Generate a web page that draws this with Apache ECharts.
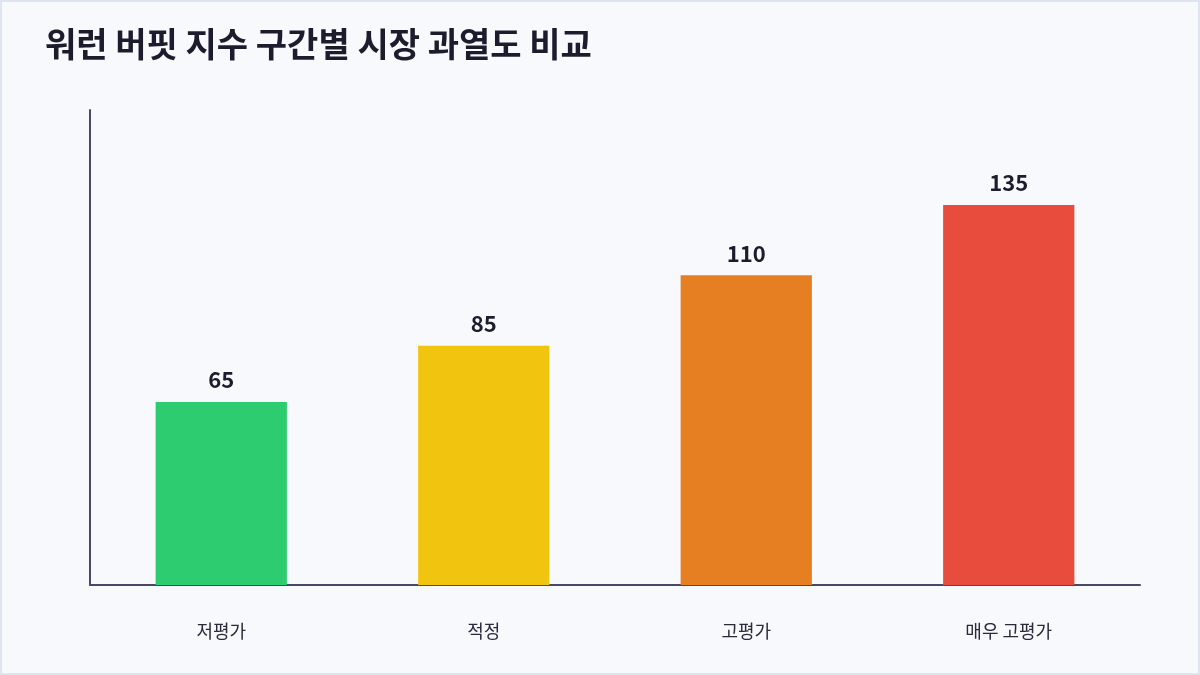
<!DOCTYPE html>
<html>
<head>
<meta charset="utf-8">
<script src="https://cdn.jsdelivr.net/npm/echarts@6/dist/echarts.min.js"></script>
<style>
  html, body { margin: 0; padding: 0; background: #f7f9fd; }
  #main { width: 1200px; height: 675px; }
</style>
</head>
<body>
<div id="main"></div>
<script>
let categories = ["저평가", "적정", "고평가", "매우 고평가"]
let values = [65, 85, 110, 135]
let colors = ["#2ecc71", "#f1c40f", "#e67e22", "#e74c3c"]

let fontFamily = '"Noto Sans CJK KR", "Noto Sans", sans-serif'

var myChart = echarts.init(document.getElementById('main'))

var option = {
  backgroundColor: '#f7f9fd',
  textStyle: { fontFamily: fontFamily },
  title: {
    text: '워런 버핏 지수 구간별 시장 과열도 비교',
    left: 40,
    top: 22,
    textStyle: {
      fontFamily: fontFamily,
      fontSize: 34,
      fontWeight: 'bold',
      color: '#1c1c2e'
    }
  },
  graphic: [
    {
      type: 'rect',
      shape: { x: 1, y: 1, width: 1198, height: 673 },
      style: { fill: 'none', stroke: '#dfe5ee', lineWidth: 2 },
      silent: true
    }
  ],
  grid: { left: 90, right: 60, top: 110, bottom: 90 },
  xAxis: {
    type: 'category',
    data: categories,
    axisLine: { lineStyle: { color: '#4a4868', width: 2 } },
    axisTick: { show: false },
    axisLabel: {
      margin: 37,
      fontSize: 18,
      color: '#2a2a3c',
      fontFamily: fontFamily
    }
  },
  yAxis: {
    type: 'value',
    min: 0,
    max: 168.75,
    axisLine: { show: true, lineStyle: { color: '#4a4868', width: 2 } },
    axisTick: { show: false },
    axisLabel: { show: false },
    splitLine: { show: false }
  },
  series: [
    {
      type: 'bar',
      barWidth: '50%',
      data: values.map((v, i) => ({ value: v, itemStyle: { color: colors[i] } })),
      label: {
        show: true,
        position: 'top',
        distance: 11,
        fontSize: 22,
        fontWeight: 'bold',
        color: '#1c1c2e',
        fontFamily: fontFamily
      }
    }
  ]
}

myChart.setOption(option)
</script>
</body>
</html>
